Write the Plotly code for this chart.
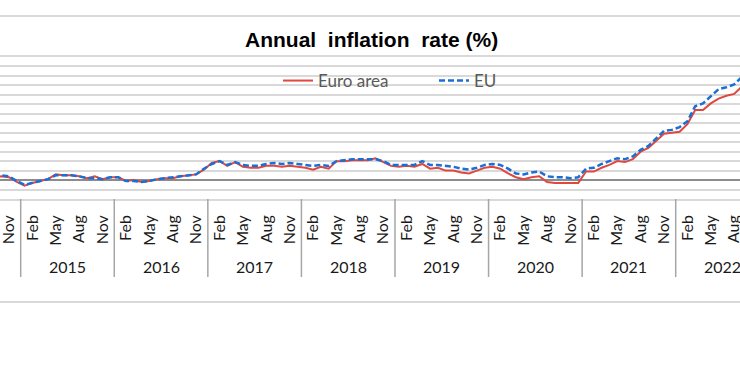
import plotly.graph_objects as go

# Monthly annual inflation rates (%), Sep 2014 .. Sep 2022
start_year = 2014
start_month = 9  # September
euro_area = [
    0.3, 0.4, 0.3, -0.2,                                              # 2014 Sep-Dec
    -0.6, -0.3, -0.1, 0.1, 0.6, 0.5, 0.5, 0.4, 0.2, 0.4, 0.1, 0.3,    # 2015
    0.3, -0.1, 0.0, -0.2, -0.1, 0.1, 0.2, 0.2, 0.4, 0.5, 0.6, 1.1,    # 2016
    1.8, 2.0, 1.5, 1.9, 1.4, 1.3, 1.3, 1.5, 1.5, 1.4, 1.5, 1.4,       # 2017
    1.3, 1.1, 1.4, 1.2, 2.0, 2.0, 2.1, 2.1, 2.1, 2.3, 1.9, 1.5,       # 2018
    1.4, 1.5, 1.4, 1.7, 1.2, 1.3, 1.0, 1.0, 0.8, 0.7, 1.0, 1.3,       # 2019
    1.4, 1.2, 0.7, 0.3, 0.1, 0.3, 0.4, -0.2, -0.3, -0.3, -0.3, -0.3,  # 2020
    0.9, 0.9, 1.3, 1.6, 2.0, 1.9, 2.2, 3.0, 3.4, 4.1, 4.9, 5.0,       # 2021
    5.1, 5.9, 7.4, 7.4, 8.1, 8.6, 8.9, 9.1, 9.9,                      # 2022 Jan-Sep
]
eu = [
    0.4, 0.5, 0.4, -0.1,                                              # 2014 Sep-Dec
    -0.5, -0.3, -0.1, 0.1, 0.5, 0.5, 0.5, 0.4, 0.2, 0.2, 0.1, 0.3,    # 2015
    0.3, -0.1, -0.1, -0.2, -0.1, 0.1, 0.2, 0.3, 0.4, 0.5, 0.6, 1.2,   # 2016
    1.7, 2.0, 1.6, 1.9, 1.6, 1.5, 1.5, 1.7, 1.8, 1.7, 1.8, 1.7,       # 2017
    1.6, 1.5, 1.6, 1.5, 2.0, 2.1, 2.2, 2.2, 2.2, 2.2, 2.0, 1.6,       # 2018
    1.6, 1.6, 1.6, 2.0, 1.6, 1.6, 1.5, 1.4, 1.2, 1.1, 1.3, 1.6,       # 2019
    1.7, 1.6, 1.2, 0.7, 0.6, 0.8, 0.9, 0.4, 0.3, 0.3, 0.2, 0.3,       # 2020
    1.2, 1.3, 1.7, 2.0, 2.3, 2.2, 2.5, 3.2, 3.6, 4.4, 5.2, 5.3,       # 2021
    5.6, 6.2, 7.8, 8.1, 8.8, 9.6, 9.8, 10.1, 10.9,                    # 2022 Jan-Sep
]
month_names = ["Jan", "Feb", "Mar", "Apr", "May", "Jun",
               "Jul", "Aug", "Sep", "Oct", "Nov", "Dec"]
shown_months = ["Feb", "May", "Aug", "Nov"]
years = [2015, 2016, 2017, 2018, 2019, 2020, 2021, 2022]
title_text = "Annual\u00a0\u00a0inflation\u00a0\u00a0rate\u00a0(%)"

# month index: 0 = Jan 2014
x_idx = [(start_year - 2014) * 12 + (start_month - 1) + k for k in range(len(euro_area))]
month_of = [month_names[i % 12] for i in x_idx]

fig = go.Figure()
fig.add_trace(go.Scatter(x=x_idx, y=euro_area, mode="lines", name="Euro area",
                         line=dict(color="#E0473D", width=2)))
fig.add_trace(go.Scatter(x=x_idx, y=eu, mode="lines", name="EU",
                         line=dict(color="#1A6FD6", width=2.5, dash="6px,3px")))

tickvals = [i for i, m in zip(x_idx, month_of) if m in shown_months]
ticktext = [m for m in month_of if m in shown_months]

PLOT_TOP, PLOT_BOT, H = 57, 199, 389
def py(px):
    return (PLOT_BOT - px) / (PLOT_BOT - PLOT_TOP)

shapes = []
annotations = []
sep_color = "#A6A6A6"
for yr in years:
    b = (yr - 2014) * 12 - 0.5
    shapes.append(dict(type="line", xref="x", yref="paper", x0=b, x1=b,
                       y0=0, y1=py(277), line=dict(color=sep_color, width=1.5)))
    annotations.append(dict(x=(yr - 2014) * 12 + 5.5, y=py(266), xref="x", yref="paper",
                            text=str(yr), showarrow=False, yanchor="middle",
                            font=dict(family="Lato", size=16, color="#1a1a1a")))
for ypix in (16, 302):
    shapes.append(dict(type="line", xref="paper", yref="paper", x0=0, x1=1,
                       y0=py(ypix), y1=py(ypix), line=dict(color="#D9D9D9", width=2)))

annotations.append(dict(x=0.502, y=py(40), xref="paper", yref="paper", text=title_text,
                        showarrow=False, yanchor="middle", xanchor="center",
                        font=dict(family="Liberation Sans", size=21, color="#000000",
                                  weight="bold")))

fig.update_layout(
    template="none",
    width=740, height=389,
    margin=dict(l=0, r=0, t=PLOT_TOP, b=H - PLOT_BOT, pad=0, autoexpand=False),
    paper_bgcolor="white", plot_bgcolor="white",
    shapes=shapes, annotations=annotations,
    showlegend=True,
    legend=dict(orientation="h", x=278 / 740, xanchor="left", y=py(81), yanchor="middle",
                bgcolor="rgba(0,0,0,0)", font=dict(family="Lato", size=17, color="#595959"),
                itemwidth=30, tracegroupgap=0, entrywidth=111, entrywidthmode="pixels"),
    xaxis=dict(range=[8.845, 103.746], tickvals=tickvals, ticktext=ticktext,
               tickangle=-90, showgrid=False, zeroline=False, ticks="",
               ticklabelstandoff=8, automargin=False, ticklabeloverflow="allow",
               tickfont=dict(family="Lato", size=16, color="#1a1a1a"),
               showline=True, mirror=True, linecolor="#D9D9D9", linewidth=1.5),
    yaxis=dict(range=[-2, 13], dtick=1, showgrid=True, gridcolor="#D9D9D9", gridwidth=1.5,
               zeroline=True, zerolinecolor="#8C8C8C", zerolinewidth=1.5,
               showticklabels=False, ticks="", automargin=False, showline=False),
)

fig.write_html("out.html", config={"displayModeBar": False},
               post_script="document.body.style.margin='0';document.body.style.overflow='hidden';")
